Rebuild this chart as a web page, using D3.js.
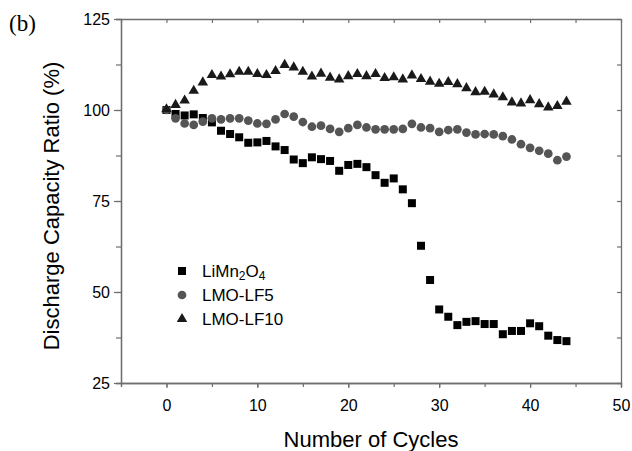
<!DOCTYPE html>
<html>
<head>
<meta http-equiv="Content-type" content="text/html; charset=utf-8">
<title>Discharge capacity ratio</title>
<script src="https://cdn.jsdelivr.net/npm/d3@7"></script>
<style>
  body { margin: 0; background: #fff; }
  text { font-family: "Liberation Sans", Arial, sans-serif; fill: #000; }
</style>
</head>
<body>
<script type="text/javascript">

  // data
  var cycles = d3.range(0, 45);
  var limn2o4 = [100, 98.9, 98.5, 98.8, 97.8, 96.6, 94.3, 93.4, 92.5, 91.0, 91.1, 91.5, 90.0, 89.0, 86.4,
                 85.4, 87.0, 86.5, 86.0, 83.3, 84.9, 85.2, 84.3, 82.1, 80.0, 81.2, 78.2, 74.4, 62.7, 53.3,
                 45.2, 43.2, 40.9, 41.8, 42.0, 41.2, 41.2, 38.4, 39.3, 39.3, 41.4, 40.6, 38.0, 36.8, 36.5];
  var lmoLF5 = [100, 97.7, 96.3, 95.9, 96.8, 97.7, 97.4, 97.7, 97.7, 97.1, 96.3, 96.2, 97.4, 98.9, 98.2,
                96.7, 95.4, 95.7, 94.8, 94.0, 95.0, 95.9, 95.2, 94.7, 94.7, 94.7, 94.8, 96.2, 95.2, 95.0,
                94.0, 94.5, 94.7, 93.8, 93.3, 93.4, 93.3, 92.8, 91.9, 90.6, 89.6, 88.8, 88.0, 86.2, 87.2];
  var lmoLF10 = [100.2, 101.4, 102.6, 105.3, 107.6, 109.6, 109.2, 109.8, 110.5, 110.5, 109.9, 109.6, 110.7, 112.4, 111.7,
                 110.5, 109.2, 110.0, 108.9, 108.4, 109.3, 109.9, 109.3, 109.9, 108.8, 109.0, 108.4, 109.5, 108.5, 107.8,
                 107.2, 107.7, 107.1, 106.0, 104.9, 105.0, 104.3, 103.5, 102.1, 101.8, 102.7, 101.6, 100.7, 101.1, 102.3];

  var seriesNames = ["LiMn2O4", "LMO-LF5", "LMO-LF10"];
  var xTicks = [0, 10, 20, 30, 40, 50];
  var yTicks = [25, 50, 75, 100, 125];

  var W = 632, H = 451;
  var pLeft = 121, pRight = 621, pTop = 19, pBottom = 383;
  var axisColor = "#6e6e6e";

  var svg = d3.select("body").append("svg").attr("width", W).attr("height", H);

  var x = d3.scaleLinear().domain([-5, 50]).range([pLeft, pRight]);
  var y = d3.scaleLinear().domain([25, 125]).range([pBottom, pTop]);

  var xMinor = d3.range(-5, 51, 5);
  var yMinor = d3.range(25, 126, 12.5);

  function styleAxis(g) {
    g.select(".domain").attr("stroke", axisColor).attr("stroke-width", 1.3);
    g.selectAll(".tick line").attr("stroke", axisColor).attr("stroke-width", 1.2);
    g.selectAll(".tick text").style("font-size", "16px").attr("fill", "#000");
  }

  // minor ticks first, then major ticks with labels
  svg.append("g").attr("transform", "translate(0," + pBottom + ")")
    .call(d3.axisBottom(x).tickValues(xMinor).tickSize(4).tickFormat(""))
    .call(styleAxis);
  svg.append("g").attr("transform", "translate(0," + pBottom + ")")
    .call(d3.axisBottom(x).tickValues(xTicks).tickSize(5).tickSizeOuter(0).tickPadding(12))
    .call(styleAxis);

  svg.append("g").attr("transform", "translate(" + pLeft + ",0)")
    .call(d3.axisLeft(y).tickValues(yMinor).tickSize(5).tickFormat(""))
    .call(styleAxis);
  svg.append("g").attr("transform", "translate(" + pLeft + ",0)")
    .call(d3.axisLeft(y).tickValues(yTicks).tickSize(7).tickSizeOuter(0).tickPadding(4))
    .call(styleAxis);

  // top and right: ticks pointing inward, no labels
  svg.append("g").attr("transform", "translate(0," + pTop + ")")
    .call(d3.axisTop(x).tickValues(xMinor).tickSize(-4).tickSizeOuter(0).tickFormat(""))
    .call(styleAxis);
  svg.append("g").attr("transform", "translate(" + pRight + ",0)")
    .call(d3.axisRight(y).tickValues(yMinor).tickSize(-4).tickSizeOuter(0).tickFormat(""))
    .call(styleAxis);

  // axis titles
  svg.append("text")
    .attr("x", (pLeft + pRight) / 2).attr("y", 447)
    .attr("text-anchor", "middle")
    .style("font-size", "22px")
    .text("Number of Cycles");

  svg.append("text")
    .attr("transform", "translate(59," + ((pTop + pBottom) / 2 + 5) + ") rotate(-90)")
    .attr("text-anchor", "middle")
    .style("font-size", "22px")
    .text("Discharge Capacity Ratio (%)");

  svg.append("text")
    .attr("x", 9).attr("y", 31)
    .style("font-family", "'Liberation Serif', 'Times New Roman', serif")
    .style("font-size", "23px")
    .text("(b)");

  // series
  var series = [
    { name: seriesNames[0], values: limn2o4, symbol: d3.symbolSquare, size: 64, color: "#000" },
    { name: seriesNames[1], values: lmoLF5, symbol: d3.symbolCircle, size: 60, color: "#555" },
    { name: seriesNames[2], values: lmoLF10, symbol: d3.symbolTriangle, size: 48, color: "#1a1a1a" }
  ];

  series.forEach(function(s) {
    svg.append("g").selectAll("path")
      .data(cycles)
      .enter().append("path")
      .attr("d", d3.symbol().type(s.symbol).size(s.size))
      .attr("transform", function(d, i) { return "translate(" + x(d) + "," + y(s.values[i]) + ")"; })
      .attr("fill", s.color);
  });

  // legend
  var legend = svg.append("g").attr("transform", "translate(182,271)");
  series.forEach(function(s, i) {
    var row = legend.append("g").attr("transform", "translate(0," + (i * 24) + ")");
    row.append("path")
      .attr("d", d3.symbol().type(s.symbol).size(s.size))
      .attr("fill", s.color);
    var t = row.append("text").attr("x", 20).attr("y", 6).style("font-size", "17px");
    if (i === 0) {
      t.append("tspan").text("LiMn");
      t.append("tspan").attr("dy", 3).style("font-size", "12px").text("2");
      t.append("tspan").attr("dy", -3).text("O");
      t.append("tspan").attr("dy", 3).style("font-size", "12px").text("4");
    } else {
      t.text(s.name);
    }
  });

</script>
</body>
</html>
